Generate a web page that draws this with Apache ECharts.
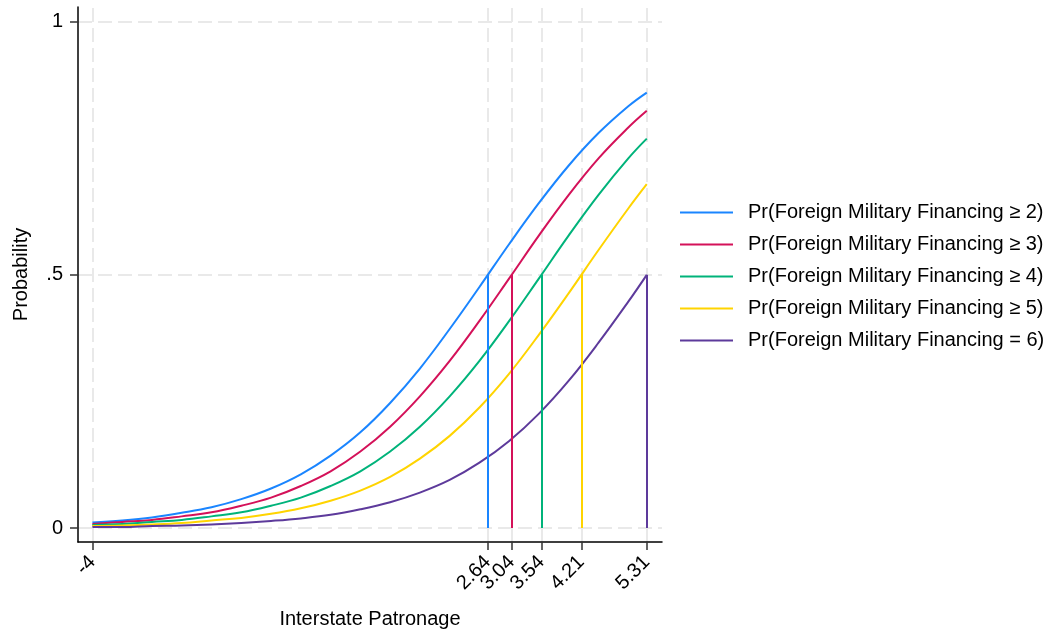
<!DOCTYPE html>
<html>
<head>
<meta charset="utf-8">
<script src="https://cdn.jsdelivr.net/npm/echarts@6/dist/echarts.min.js"></script>
<style>
html,body{margin:0;padding:0;background:#fff;}
#chart{width:1052px;height:630px;}
</style>
</head>
<body>
<div id="chart"></div>
<script>
// ---- data ----
const xValues = [-4, -3.5, -3, -2.5, -2, -1.5, -1, -0.5, 0, 0.5, 1, 1.5, 2, 2.5, 3, 3.5, 4, 4.5, 5, 5.31];
const seriesNames = [
  'Pr(Foreign Military Financing \u2265 2)',
  'Pr(Foreign Military Financing \u2265 3)',
  'Pr(Foreign Military Financing \u2265 4)',
  'Pr(Foreign Military Financing \u2265 5)',
  'Pr(Foreign Military Financing = 6)'
];
const prGe2 = [0.011,0.015,0.021,0.030,0.041,0.057,0.078,0.106,0.143,0.189,0.247,0.315,0.393,0.476,0.561,0.642,0.716,0.780,0.833,0.860];
const prGe3 = [0.008,0.012,0.016,0.023,0.031,0.044,0.060,0.083,0.112,0.151,0.200,0.260,0.330,0.409,0.493,0.578,0.658,0.730,0.791,0.824];
const prGe4 = [0.006,0.008,0.012,0.016,0.023,0.031,0.044,0.060,0.083,0.112,0.151,0.200,0.260,0.330,0.409,0.493,0.578,0.658,0.730,0.769];
const prGe5 = [0.004,0.005,0.007,0.010,0.015,0.020,0.028,0.039,0.054,0.074,0.101,0.137,0.182,0.238,0.305,0.382,0.464,0.549,0.631,0.679];
const prEq6 = [0.002,0.002,0.004,0.005,0.007,0.010,0.014,0.019,0.026,0.037,0.051,0.070,0.095,0.129,0.172,0.226,0.291,0.366,0.447,0.500];
const thresholds = [2.64, 3.04, 3.54, 4.21, 5.31];
const xTickValues = [-4, 2.64, 3.04, 3.54, 4.21, 5.31];
const xTickLabels = ['-4', '2.64', '3.04', '3.54', '4.21', '5.31'];
const yTickValues = [0, 0.5, 1];
const yTickLabels = ['0', '.5', '1'];
const colors = ['#1a85ff', '#d41159', '#00b37a', '#ffd400', '#5d3a9b'];

const allSeries = [prGe2, prGe3, prGe4, prGe5, prEq6];
const FONT = '"Liberation Sans", Arial, Helvetica, sans-serif';
const FS = 20;

function fmtFrom(values, labels) {
  return function (v) {
    for (let i = 0; i < values.length; i++) {
      if (Math.abs(values[i] - v) < 1e-6) return labels[i];
    }
    return '';
  };
}

const gridStyle = { color: '#e9e9e9', type: [14, 6], width: 2 };

const series = [{
  name: '_grid',
  type: 'line',
  data: [[xValues[0], 0]],
  symbol: 'none',
  lineStyle: { opacity: 0 },
  silent: true,
  z: 0,
  markLine: {
    silent: true,
    z: 0,
    symbol: 'none',
    label: { show: false },
    lineStyle: gridStyle,
    animation: false,
    data: xTickValues.map(v => ({ xAxis: v })).concat(yTickValues.map(v => ({ yAxis: v })))
  }
}];

allSeries.forEach((vals, i) => {
  series.push({
    name: seriesNames[i],
    type: 'line',
    data: xValues.map((x, j) => [x, vals[j]]),
    symbol: 'none',
    showSymbol: false,
    smooth: 0.4,
    color: colors[i],
    lineStyle: { color: colors[i], width: 2 },
    z: 3,
    markLine: {
      silent: true,
      z: 4,
      symbol: 'none',
      label: { show: false },
      animation: false,
      lineStyle: { color: colors[i], width: 2, type: 'solid' },
      data: [[{ coord: [thresholds[i], 0] }, { coord: [thresholds[i], 0.5] }]]
    }
  });
});

const chart = echarts.init(document.getElementById('chart'), null, { renderer: 'canvas' });
chart.setOption({
  animation: false,
  backgroundColor: '#fff',
  textStyle: { fontFamily: FONT },
  grid: { left: 78, top: 7, width: 584, height: 535, containLabel: false, outerBoundsMode: 'none' },
  legend: {
    data: seriesNames,
    orient: 'vertical',
    left: 680,
    top: 201,
    icon: 'rect',
    itemWidth: 53,
    itemHeight: 2,
    itemGap: 9,
    padding: 0,
    textStyle: { fontFamily: FONT, fontSize: FS, color: '#000', lineHeight: 23, padding: [0, 0, 0, 10] }
  },
  xAxis: {
    type: 'value',
    min: -4.242,
    max: 5.566,
    name: 'Interstate Patronage',
    nameLocation: 'middle',
    nameGap: 67,
    nameTextStyle: { fontFamily: FONT, fontSize: FS, color: '#000' },
    axisLine: { show: true, onZero: false, lineStyle: { color: '#000', width: 1.5 } },
    axisTick: { show: true, customValues: xTickValues, length: 8, lineStyle: { color: '#333', width: 1.5 } },
    axisLabel: {
      customValues: xTickValues,
      rotate: 45,
      margin: 17,
      fontFamily: FONT,
      fontSize: FS,
      color: '#000',
      formatter: fmtFrom(xTickValues, xTickLabels)
    },
    splitLine: { show: false }
  },
  yAxis: {
    type: 'value',
    min: -0.0276,
    max: 1.029,
    name: 'Probability',
    nameLocation: 'middle',
    nameGap: 47,
    nameTextStyle: { fontFamily: FONT, fontSize: FS, color: '#000' },
    axisLine: { show: true, onZero: false, lineStyle: { color: '#000', width: 1.5 } },
    axisTick: { show: true, customValues: yTickValues, length: 8, lineStyle: { color: '#333', width: 1.5 } },
    axisLabel: {
      customValues: yTickValues,
      margin: 15,
      fontFamily: FONT,
      fontSize: FS,
      color: '#000',
      formatter: fmtFrom(yTickValues, yTickLabels)
    },
    splitLine: { show: false }
  },
  series: series
});
</script>
</body>
</html>
